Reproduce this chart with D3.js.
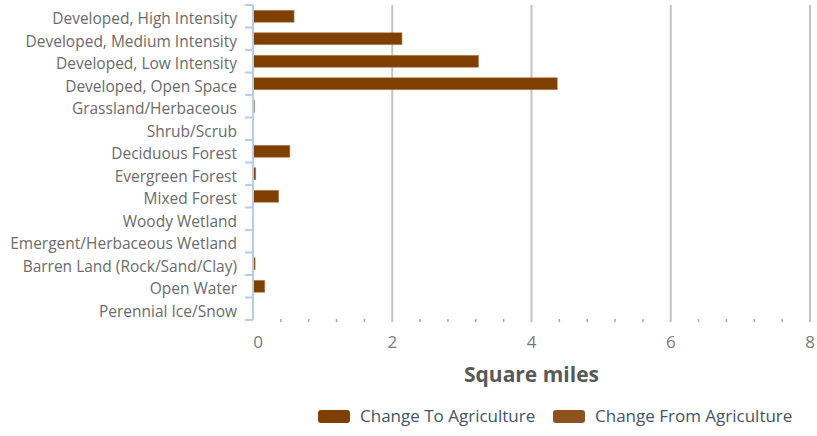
<!DOCTYPE html>
<html>
<head>
<meta charset="utf-8">
<script src="https://cdn.jsdelivr.net/npm/d3@7"></script>
<style>
  body { margin: 0; background: #fff; }
  svg { display: block; font-family: "Open Sans", sans-serif; }
</style>
</head>
<body>
<div id="chart"></div>
<script>
const categories = [
  "Developed, High Intensity",
  "Developed, Medium Intensity",
  "Developed, Low Intensity",
  "Developed, Open Space",
  "Grassland/Herbaceous",
  "Shrub/Scrub",
  "Deciduous Forest",
  "Evergreen Forest",
  "Mixed Forest",
  "Woody Wetland",
  "Emergent/Herbaceous Wetland",
  "Barren Land (Rock/Sand/Clay)",
  "Open Water",
  "Perennial Ice/Snow"
];
const changeTo = [0.59, 2.14, 3.24, 4.37, 0.02, 0, 0.53, 0.04, 0.37, 0, 0, 0.03, 0.17, 0];
const changeFrom = [0, 0, 0, 0, 0, 0, 0, 0, 0, 0, 0, 0, 0, 0];
const xTicks = [0, 2, 4, 6, 8];
const seriesNames = ["Change To Agriculture", "Change From Agriculture"];
const seriesColors = ["#7f3f00", "#8c5220"];

const width = 817, height = 436;
const margin = { top: 5, left: 253, right: 7, bottom: 116 };

const svg = d3.select("#chart").append("svg")
  .attr("width", width)
  .attr("height", height);

const x = d3.scaleLinear().domain([0, 8]).range([margin.left, width - margin.right]);
const y = d3.scaleBand().domain(categories).range([margin.top, height - margin.bottom]);

// gridlines
svg.append("g")
  .selectAll("line")
  .data(xTicks.filter(d => d > 0))
  .join("line")
  .attr("x1", d => x(d)).attr("x2", d => x(d))
  .attr("y1", margin.top).attr("y2", height - margin.bottom + 2)
  .attr("stroke", "#c3c3c3")
  .attr("stroke-width", 2);

// minor ticks
const minor = d3.range(0, 8.001, 0.4).filter(d => Math.abs(d / 2 - Math.round(d / 2)) > 0.01);
svg.append("g")
  .selectAll("line")
  .data(minor)
  .join("line")
  .attr("x1", d => x(d)).attr("x2", d => x(d))
  .attr("y1", height - margin.bottom - 1).attr("y2", height - margin.bottom + 2)
  .attr("stroke", "#a6a6a6")
  .attr("stroke-width", 1.5);

// bars
const barH = 12;
const bars = svg.append("g");
[changeTo, changeFrom].forEach((vals, s) => {
  bars.append("g")
    .selectAll("rect")
    .data(vals.map((v, i) => ({ cat: categories[i], v })).filter(d => d.v > 0))
    .join("rect")
    .attr("x", x(0))
    .attr("y", d => y(d.cat) + y.bandwidth() / 2 - barH / 2)
    .attr("width", d => Math.max(1, x(d.v) - x(0)))
    .attr("height", barH)
    .attr("fill", seriesColors[s])
    .attr("stroke", "#b98a5c")
    .attr("stroke-width", 0.6);
});

// y axis
const yAxisG = svg.append("g");
yAxisG.append("line")
  .attr("x1", margin.left).attr("x2", margin.left)
  .attr("y1", margin.top).attr("y2", height - margin.bottom)
  .attr("stroke", "#b8cce4").attr("stroke-width", 2);
const boundaries = categories.map(c => y(c)).concat([height - margin.bottom]);
yAxisG.selectAll("line.tick")
  .data(boundaries)
  .join("line")
  .attr("class", "tick")
  .attr("x1", margin.left - 8).attr("x2", margin.left)
  .attr("y1", d => d).attr("y2", d => d)
  .attr("stroke", "#b8cce4").attr("stroke-width", 2);
yAxisG.selectAll("text")
  .data(categories)
  .join("text")
  .attr("x", margin.left - 16)
  .attr("y", d => y(d) + y.bandwidth() / 2)
  .attr("dy", "0.5em")
  .attr("text-anchor", "end")
  .attr("fill", "#6b6b6b")
  .attr("font-size", 15.5)
  .text(d => d);

// x tick labels
svg.append("g")
  .selectAll("text")
  .data(xTicks)
  .join("text")
  .attr("x", d => x(d) + (d === 0 ? 5 : 0))
  .attr("y", height - margin.bottom + 28)
  .attr("text-anchor", "middle")
  .attr("fill", "#7a7a7a")
  .attr("font-size", 17)
  .text(d => d);

// x title
svg.append("text")
  .attr("x", x(4))
  .attr("y", 382)
  .attr("text-anchor", "middle")
  .attr("fill", "#595959")
  .attr("font-size", 21)
  .attr("font-weight", "bold")
  .text("Square miles");

// legend
const legendX = [318, 553];
const legend = svg.append("g");
seriesNames.forEach((name, i) => {
  legend.append("rect")
    .attr("x", legendX[i]).attr("y", 410)
    .attr("width", 32).attr("height", 13)
    .attr("rx", 3)
    .attr("fill", seriesColors[i]);
  legend.append("text")
    .attr("x", legendX[i] + 42).attr("y", 422)
    .attr("fill", "#44546a")
    .attr("font-size", 17)
    .text(name);
});
</script>
</body>
</html>
